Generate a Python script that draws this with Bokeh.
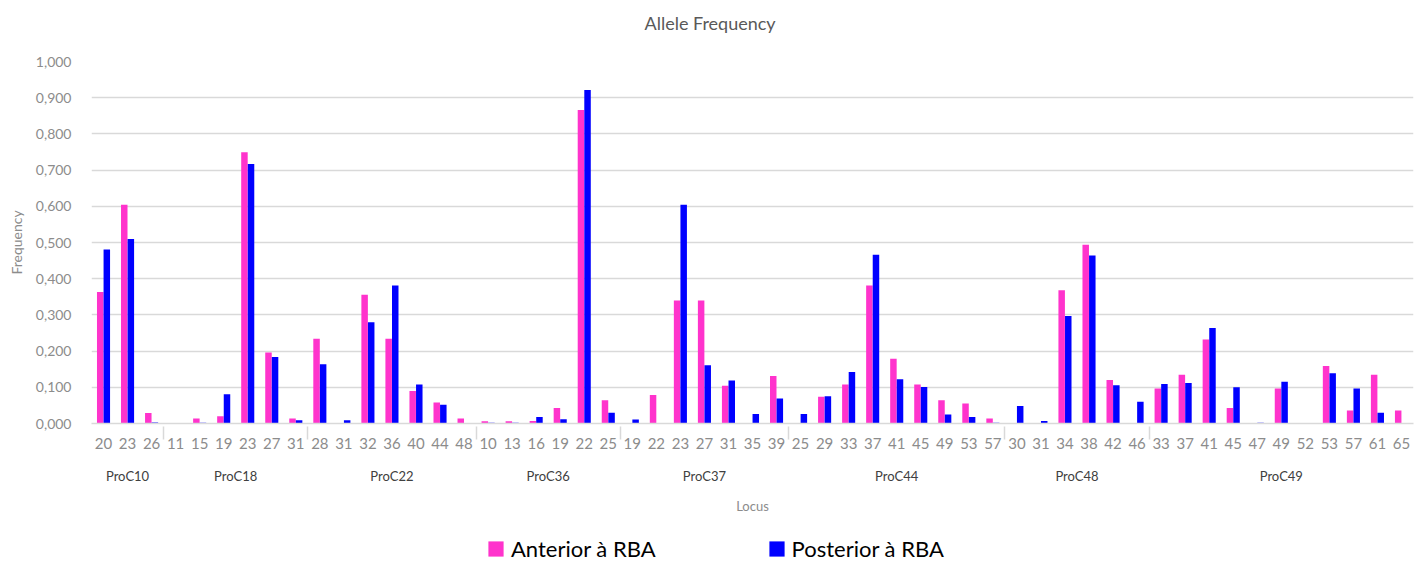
from bokeh.plotting import figure
from bokeh.layouts import column
from bokeh.models import (ColumnDataSource, FactorRange, CategoricalAxis, Legend,
                          LegendItem, CustomJSTickFormatter, FixedTicker, Range1d)
from bokeh.transform import dodge
from bokeh.embed import file_html
from bokeh.resources import INLINE

locus = (["ProC10"] * 3 + ["ProC18"] * 6 + ["ProC22"] * 7 + ["ProC36"] * 6 +
         ["ProC37"] * 7 + ["ProC44"] * 9 + ["ProC48"] * 6 + ["ProC49"] * 11)
allele = ["20", "23", "26",
          "11", "15", "19", "23", "27", "31",
          "28", "31", "32", "36", "40", "44", "48",
          "10", "13", "16", "19", "22", "25",
          "19", "22", "23", "27", "31", "35", "39",
          "25", "29", "33", "37", "41", "45", "49", "53", "57",
          "30", "31", "34", "38", "42", "46",
          "33", "37", "41", "45", "47", "49", "52", "53", "57", "61", "65"]
anterior = [0.363, 0.604, 0.029,
            0.000, 0.014, 0.020, 0.749, 0.196, 0.014,
            0.234, 0.000, 0.356, 0.234, 0.090, 0.058, 0.014,
            0.006, 0.006, 0.007, 0.043, 0.866, 0.064,
            0.000, 0.079, 0.340, 0.340, 0.104, 0.000, 0.131,
            0.000, 0.074, 0.108, 0.381, 0.179, 0.108, 0.064, 0.055, 0.014,
            0.000, 0.000, 0.368, 0.494, 0.120, 0.000,
            0.097, 0.135, 0.232, 0.043, 0.000, 0.097, 0.000, 0.159, 0.036, 0.135, 0.036]
posterior = [0.481, 0.510, 0.003,
             0.000, 0.002, 0.081, 0.717, 0.184, 0.009,
             0.164, 0.009, 0.280, 0.381, 0.108, 0.052, 0.000,
             0.002, 0.002, 0.018, 0.012, 0.921, 0.030,
             0.011, 0.000, 0.604, 0.161, 0.119, 0.026, 0.069,
             0.026, 0.075, 0.142, 0.466, 0.122, 0.101, 0.025, 0.018, 0.002,
             0.048, 0.007, 0.297, 0.464, 0.106, 0.060,
             0.109, 0.112, 0.264, 0.100, 0.002, 0.115, 0.000, 0.139, 0.097, 0.030, 0.000]
y_ticks = [0.0, 0.1, 0.2, 0.3, 0.4, 0.5, 0.6, 0.7, 0.8, 0.9, 1.0]
series_names = ["Anterior à RBA", "Posterior à RBA"]
chart_title = "Allele Frequency"

FONT = "Lato"
PINK = "#FF33CC"
BLUE = "#0000FF"

factors = list(zip(locus, allele))
src = ColumnDataSource(dict(x=factors, ant=anterior, post=posterior))
xr = FactorRange(factors=factors, factor_padding=0, group_padding=0, range_padding=0)

# ---- title strip ----
p0 = figure(width=1420, height=42, x_axis_location=None, y_axis_location=None,
            output_backend="svg", toolbar_location=None, title=chart_title,
            min_border_left=91, min_border_right=7, min_border_top=0,
            min_border_bottom=0)
p0.grid.grid_line_color = None
p0.outline_line_color = None
p0.title.align = "left"
p0.title.offset = 553
p0.title.standoff = 18
p0.title.text_font = FONT
p0.title.text_font_size = "18px"
p0.title.text_font_style = "normal"
p0.title.text_color = "#595959"

# ---- main chart ----
p = figure(x_range=xr, y_range=(0, 1.0), frame_width=1322, frame_height=362,
           output_backend="svg", toolbar_location=None,
           min_border_left=91, min_border_right=7, min_border_top=19,
           min_border_bottom=112)

r1 = p.vbar(x=dodge("x", -0.137, range=xr), top="ant", width=0.27,
            source=src, fill_color=PINK, line_color=None)
r2 = p.vbar(x=dodge("x", 0.137, range=xr), top="post", width=0.27,
            source=src, fill_color=BLUE, line_color=None)

p.outline_line_color = None
p.xgrid.grid_line_color = None
p.ygrid.grid_line_color = "#D9D9D9"
p.ygrid.grid_line_width = 1.5

ya = p.yaxis[0]
ya.ticker = FixedTicker(ticks=y_ticks)
ya.formatter = CustomJSTickFormatter(code="return tick.toFixed(3).replace('.', ',');")
ya.axis_line_color = None
ya.major_tick_line_color = None
ya.minor_tick_line_color = None
ya.major_label_standoff = 14
ya.major_label_text_font = FONT
ya.major_label_text_font_size = "14px"
ya.major_label_text_color = "#8C8C8C"
ya.axis_label = "Frequency"
ya.axis_label_text_font = FONT
ya.axis_label_text_font_size = "14px"
ya.axis_label_text_font_style = "normal"
ya.axis_label_text_color = "#8C8C8C"
ya.axis_label_standoff = 8

xa = p.xaxis[0]
xa.axis_line_color = "#D9D9D9"
xa.axis_line_width = 1.5
xa.major_tick_line_color = None
xa.major_label_standoff = 8
xa.major_label_text_font = FONT
xa.major_label_text_font_size = "15px"
xa.major_label_text_color = "#8C8C8C"
xa.major_label_orientation = "horizontal"
xa.group_text_font_size = "1px"
xa.group_text_color = None
xa.separator_line_color = "#D9D9D9"
xa.separator_line_width = 1.5

xb = CategoricalAxis()
xb.axis_line_color = None
xb.major_tick_line_color = None
xb.major_label_text_font_size = "1px"
xb.major_label_text_color = None
xb.separator_line_color = None
xb.major_label_standoff = 10
xb.group_text_font = FONT
xb.group_text_font_size = "13px"
xb.group_text_font_style = "normal"
xb.group_text_color = "#404040"
xb.axis_label = "Locus"
xb.axis_label_text_font = FONT
xb.axis_label_text_font_size = "13px"
xb.axis_label_text_font_style = "normal"
xb.axis_label_text_color = "#8C8C8C"
xb.axis_label_standoff = 11
p.add_layout(xb, "below")

# ---- legend strip (same series, drawn out of view so only the legend shows) ----
p2 = figure(width=1420, height=27, x_range=xr, y_range=Range1d(5, 6),
            x_axis_location=None, y_axis_location=None,
            output_backend="svg", toolbar_location=None,
            min_border_left=91, min_border_right=7, min_border_top=0,
            min_border_bottom=0)
p2.grid.grid_line_color = None
p2.outline_line_color = None
g1 = p2.vbar(x=dodge("x", -0.137, range=xr), top="ant", width=0.27,
             source=src, fill_color=PINK, line_color=None)
g2 = p2.vbar(x=dodge("x", 0.137, range=xr), top="post", width=0.27,
             source=src, fill_color=BLUE, line_color=None)

legend = Legend(items=[LegendItem(label=series_names[0], renderers=[g1]),
                       LegendItem(label=series_names[1], renderers=[g2])],
                orientation="horizontal", location=(395, 0),
                label_text_font=FONT, label_text_font_size="22px",
                label_text_color="#000000", glyph_width=19, glyph_height=19,
                label_standoff=6, spacing=111, border_line_color=None,
                background_fill_alpha=0, padding=0, margin=0)
p2.add_layout(legend, "center")

open("out.html", "w").write(file_html(column(p0, p, p2, spacing=0), INLINE))
